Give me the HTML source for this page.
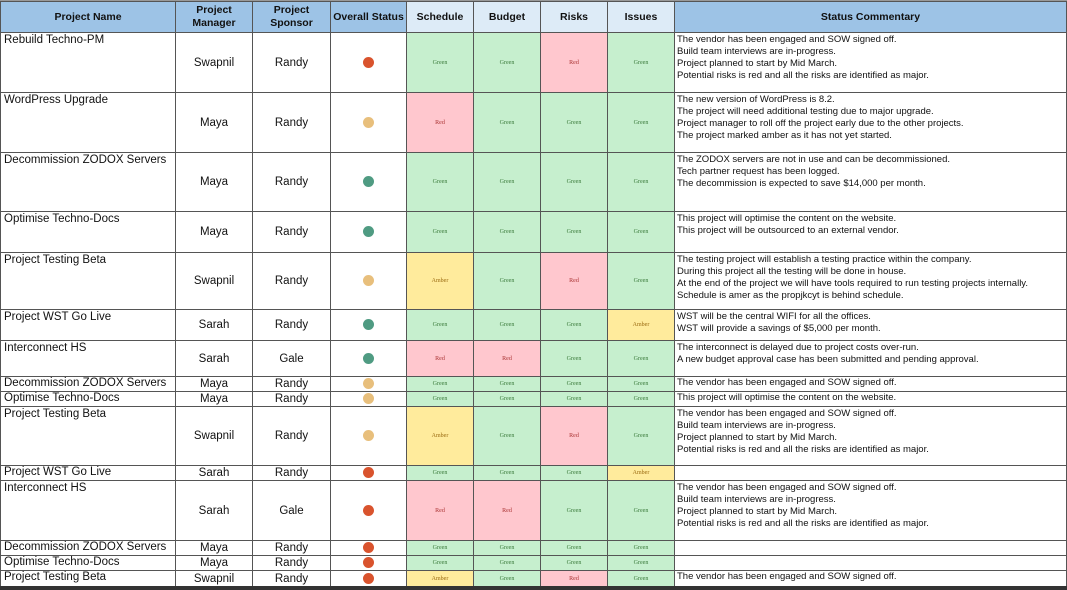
<!DOCTYPE html>
<html><head><meta charset="utf-8"><style>
html,body{margin:0;padding:0;background:#fff;width:1067px;height:590px;overflow:hidden}
body{position:relative}
table{position:absolute;left:0;top:1px;border-collapse:collapse;table-layout:fixed;font-family:"Liberation Sans",Arial,sans-serif}
td,th{border:1px solid #555;padding:0;overflow:hidden;white-space:nowrap}
th{font-size:10.5px;font-weight:bold;line-height:13px;background:#9dc3e6;color:#111}
th.l{background:#ddebf7}
td{font-size:11.5px;color:#111;text-align:center;vertical-align:middle}
td.n{text-align:left;vertical-align:top;padding-left:3px;padding-top:1px;font-size:11.5px;line-height:13px}
td.c{text-align:left;vertical-align:top;padding-left:2px;padding-top:1px;font-size:9.5px;line-height:12px}
.d{display:inline-block;width:11px;height:11px;border-radius:50%;vertical-align:middle}
.r{background:#d9532d}.a{background:#e8bf7c}.g{background:#4f9b82}
td.G,td.R,td.A{font-family:"Liberation Serif",serif;font-size:6px}
td.G{background:#c6efce;color:#3a7a3a}
td.R{background:#ffc7ce;color:#a33}
td.A{background:#ffeb9c;color:#9a6a10}
.top{position:absolute;left:0;top:0;width:1067px;height:2px;background:#999}
.bot{position:absolute;left:0;top:586px;width:1067px;height:4px;background:#333}
.rt{position:absolute;left:1066px;top:0;width:1px;height:590px;background:#fff}
</style></head><body>
<div class="top"></div>
<table>
<colgroup><col style="width:175px"><col style="width:77px"><col style="width:78px"><col style="width:76px"><col style="width:67px"><col style="width:67px"><col style="width:67px"><col style="width:67px"><col style="width:392px"></colgroup>
<tr style="height:31px"><th>Project Name</th><th>Project<br>Manager</th><th>Project<br>Sponsor</th><th>Overall Status</th><th class="l">Schedule</th><th class="l">Budget</th><th class="l">Risks</th><th class="l">Issues</th><th>Status Commentary</th></tr>
<tr style="height:60px"><td class="n">Rebuild Techno-PM</td><td>Swapnil</td><td>Randy</td><td><span class="d r"></span></td><td class="G">Green</td><td class="G">Green</td><td class="R">Red</td><td class="G">Green</td><td class="c">The vendor has been engaged and SOW signed off.<br>Build team interviews are in-progress.<br>Project planned to start by Mid March.<br>Potential risks is red and all the risks are identified as major.</td></tr>
<tr style="height:60px"><td class="n">WordPress Upgrade</td><td>Maya</td><td>Randy</td><td><span class="d a"></span></td><td class="R">Red</td><td class="G">Green</td><td class="G">Green</td><td class="G">Green</td><td class="c">The new version of WordPress is 8.2.<br>The project will need additional testing due to major upgrade.<br>Project manager to roll off the project early due to the other projects.<br>The project marked amber as it has not yet started.</td></tr>
<tr style="height:59px"><td class="n">Decommission ZODOX Servers</td><td>Maya</td><td>Randy</td><td><span class="d g"></span></td><td class="G">Green</td><td class="G">Green</td><td class="G">Green</td><td class="G">Green</td><td class="c">The ZODOX servers are not in use and can be decommissioned.<br>Tech partner request has been logged.<br>The decommission is expected to save $14,000 per month.</td></tr>
<tr style="height:41px"><td class="n">Optimise Techno-Docs</td><td>Maya</td><td>Randy</td><td><span class="d g"></span></td><td class="G">Green</td><td class="G">Green</td><td class="G">Green</td><td class="G">Green</td><td class="c">This project will optimise the content on the website.<br>This project will be outsourced to an external vendor.</td></tr>
<tr style="height:57px"><td class="n">Project Testing Beta</td><td>Swapnil</td><td>Randy</td><td><span class="d a"></span></td><td class="A">Amber</td><td class="G">Green</td><td class="R">Red</td><td class="G">Green</td><td class="c">The testing project will establish a testing practice within the company.<br>During this project all the testing will be done in house.<br>At the end of the project we will have tools required to run testing projects internally.<br>Schedule is amer as the propjkcyt is behind schedule.</td></tr>
<tr style="height:31px"><td class="n">Project WST Go Live</td><td>Sarah</td><td>Randy</td><td><span class="d g"></span></td><td class="G">Green</td><td class="G">Green</td><td class="G">Green</td><td class="A">Amber</td><td class="c">WST will be the central WIFI for all the offices.<br>WST will provide a savings of $5,000 per month.</td></tr>
<tr style="height:36px"><td class="n">Interconnect HS</td><td>Sarah</td><td>Gale</td><td><span class="d g"></span></td><td class="R">Red</td><td class="R">Red</td><td class="G">Green</td><td class="G">Green</td><td class="c">The interconnect is delayed due to project costs over-run.<br>A new budget approval case has been submitted and pending approval.</td></tr>
<tr style="height:15px"><td class="n" style="padding-top:0">Decommission ZODOX Servers</td><td>Maya</td><td>Randy</td><td><span class="d a"></span></td><td class="G">Green</td><td class="G">Green</td><td class="G">Green</td><td class="G">Green</td><td class="c" style="padding-top:0">The vendor has been engaged and SOW signed off.</td></tr>
<tr style="height:15px"><td class="n" style="padding-top:0">Optimise Techno-Docs</td><td>Maya</td><td>Randy</td><td><span class="d a"></span></td><td class="G">Green</td><td class="G">Green</td><td class="G">Green</td><td class="G">Green</td><td class="c" style="padding-top:0">This project will optimise the content on the website.</td></tr>
<tr style="height:59px"><td class="n">Project Testing Beta</td><td>Swapnil</td><td>Randy</td><td><span class="d a"></span></td><td class="A">Amber</td><td class="G">Green</td><td class="R">Red</td><td class="G">Green</td><td class="c">The vendor has been engaged and SOW signed off.<br>Build team interviews are in-progress.<br>Project planned to start by Mid March.<br>Potential risks is red and all the risks are identified as major.</td></tr>
<tr style="height:15px"><td class="n" style="padding-top:0">Project WST Go Live</td><td>Sarah</td><td>Randy</td><td><span class="d r"></span></td><td class="G">Green</td><td class="G">Green</td><td class="G">Green</td><td class="A">Amber</td><td class="c"></td></tr>
<tr style="height:60px"><td class="n">Interconnect HS</td><td>Sarah</td><td>Gale</td><td><span class="d r"></span></td><td class="R">Red</td><td class="R">Red</td><td class="G">Green</td><td class="G">Green</td><td class="c">The vendor has been engaged and SOW signed off.<br>Build team interviews are in-progress.<br>Project planned to start by Mid March.<br>Potential risks is red and all the risks are identified as major.</td></tr>
<tr style="height:15px"><td class="n" style="padding-top:0">Decommission ZODOX Servers</td><td>Maya</td><td>Randy</td><td><span class="d r"></span></td><td class="G">Green</td><td class="G">Green</td><td class="G">Green</td><td class="G">Green</td><td class="c"></td></tr>
<tr style="height:15px"><td class="n" style="padding-top:0">Optimise Techno-Docs</td><td>Maya</td><td>Randy</td><td><span class="d r"></span></td><td class="G">Green</td><td class="G">Green</td><td class="G">Green</td><td class="G">Green</td><td class="c"></td></tr>
<tr style="height:16px"><td class="n" style="padding-top:0">Project Testing Beta</td><td>Swapnil</td><td>Randy</td><td><span class="d r"></span></td><td class="A">Amber</td><td class="G">Green</td><td class="R">Red</td><td class="G">Green</td><td class="c" style="padding-top:0">The vendor has been engaged and SOW signed off.</td></tr>
</table>
<div class="bot"></div>
</body></html>
